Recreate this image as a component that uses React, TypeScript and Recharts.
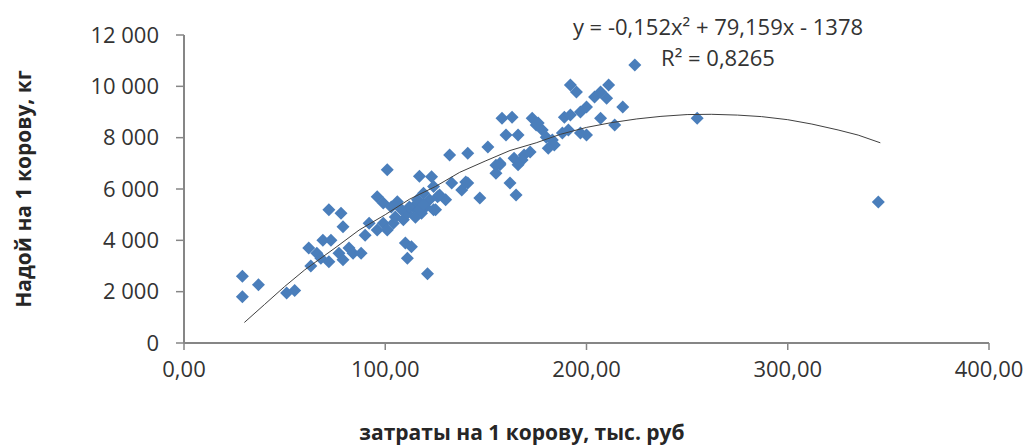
import { Scatter, ScatterChart, XAxis, YAxis } from "recharts";

/* ── data ──────────────────────────────────────────────────── */

// затраты на 1 корову, тыс. руб
const costs = [
  29, 29, 37, 51, 55, 63, 62, 66, 68, 72, 72, 69, 73, 78, 79, 77, 79, 82, 84, 88,
  90, 92, 96, 96, 99, 101, 99, 101, 104, 103, 105, 110, 113, 111, 121, 109, 111,
  114, 116, 117, 119, 118, 120, 122, 123, 124, 125, 126, 130, 132, 133, 138, 141,
  141, 147, 151, 155, 157, 158, 163, 160, 166, 162, 165, 164, 169, 172, 175, 178,
  180, 173, 176, 183, 184, 188, 189, 191, 192, 195, 192, 197, 197, 200, 200, 204,
  207, 211, 210, 207, 214, 218, 224, 255, 345, 155, 140, 127, 112, 117, 124, 106,
  115, 119, 108, 181, 168, 166, 157,
];

// Надой на 1 корову, кг
const yields = [
  2600, 1800, 2270, 1950, 2050, 3000, 3700, 3500, 3300, 3170, 5190, 4000, 4000,
  5060, 4530, 3500, 3240, 3700, 3500, 3500, 4200, 4670, 4400, 5700, 5450, 6750,
  4670, 4400, 4670, 5300, 4910, 3900, 3750, 3300, 2700, 4800, 5060, 5300, 5580,
  6500, 5830, 5060, 5300, 5580, 6480, 6100, 5190, 5700, 5580, 7320, 6230, 5960,
  7390, 6230, 5650, 7640, 6610, 7000, 8760, 8800, 8100, 8100, 6230, 5770, 7200,
  7320, 7440, 8490, 8300, 8020, 8760, 8570, 7910, 7710, 8180, 8800, 8300, 10050,
  9780, 8880, 9000, 8180, 8100, 9190, 9580, 9780, 10050, 9540, 8760, 8490, 9190,
  10830, 8760, 5490, 6930, 6270, 5770, 5300, 5190, 5190, 5500, 4900, 5400, 5200,
  7590, 7130, 6940, 6940,
];

// polynomial trend line
const trendX = [
  30, 40, 50, 60, 75, 87, 100, 112, 125, 137, 150, 162, 175, 187, 200, 212, 225,
  237, 250, 262, 275, 287, 300, 312, 325, 335, 346,
];
const trendY = [
  800, 1500, 2200, 2850, 3700, 4400, 5000, 5600, 6100, 6650, 7100, 7500, 7800,
  8130, 8400, 8580, 8730, 8830, 8900, 8910, 8880, 8820, 8700, 8530, 8300, 8100,
  7800,
];

const xTicks = [0, 100, 200, 300, 400];
const yTicks = [0, 2000, 4000, 6000, 8000, 10000, 12000];

const points = costs.map((x, i) => ({ x, y: yields[i] }));
const trend = trendX.map((x, i) => ({ x, y: trendY[i] }));

/* ── helpers ───────────────────────────────────────────────── */

const FONT = "'Open Sans', sans-serif";
const MARKER = "#4A7EBB";
const AXIS = "#868686";
const TEXT = "#333333";

const fmtX = (v: number) => v.toFixed(2).replace(".", ",");
const fmtY = (v: number) =>
  v >= 1000 ? `${Math.floor(v / 1000)} ${String(v % 1000).padStart(3, "0")}` : String(v);

// eslint-disable-next-line @typescript-eslint/no-explicit-any
function Diamond(props: any) {
  const { cx, cy } = props;
  if (cx == null || cy == null) return null;
  const r = 6.5;
  return (
    <polygon
      points={`${cx},${cy - r} ${cx + r},${cy} ${cx},${cy + r} ${cx - r},${cy}`}
      fill={MARKER}
    />
  );
}

function NoDot() {
  return null;
}

const tickStyle = { fill: TEXT, fontSize: 22, fontFamily: FONT };

export default function App() {
  return (
    <div style={{ position: "absolute", left: 0, top: 0, width: 1029, height: 446, background: "#fff" }}>
      <ScatterChart width={1029} height={446} margin={{ top: 35, right: 40, left: 0, bottom: 0 }}>
        <XAxis
          type="number"
          dataKey="x"
          domain={[0, 400]}
          ticks={xTicks}
          tickFormatter={fmtX}
          height={103}
          tick={tickStyle}
          tickSize={7}
          tickMargin={11}
          axisLine={{ stroke: AXIS, strokeWidth: 2 }}
          tickLine={{ stroke: AXIS, strokeWidth: 1.5 }}
        />
        <YAxis
          type="number"
          dataKey="y"
          domain={[0, 12000]}
          ticks={yTicks}
          tickFormatter={fmtY}
          width={184}
          tick={tickStyle}
          tickSize={8}
          tickMargin={17}
          axisLine={{ stroke: AXIS, strokeWidth: 2 }}
          tickLine={{ stroke: AXIS, strokeWidth: 1.5 }}
        />
        <Scatter data={points} shape={Diamond} isAnimationActive={false} />
        <Scatter
          data={trend}
          line={{ stroke: "#404040", strokeWidth: 1 }}
          lineType="joint"
          shape={NoDot}
          isAnimationActive={false}
        />
      </ScatterChart>

      {/* trend equation */}
      <div
        style={{
          position: "absolute",
          left: 718,
          top: 11,
          transform: "translateX(-50%)",
          fontFamily: FONT,
          fontSize: 22,
          color: TEXT,
          whiteSpace: "nowrap",
          textAlign: "center",
          lineHeight: "31px",
        }}
      >
        <div>y = -0,152x² + 79,159x - 1378</div>
        <div>R² = 0,8265</div>
      </div>

      {/* y axis title */}
      <div
        style={{
          position: "absolute",
          left: 23,
          top: 189,
          transform: "translate(-50%, -50%) rotate(-90deg)",
          fontFamily: FONT,
          fontSize: 21,
          fontWeight: 700,
          color: "#262626",
          whiteSpace: "nowrap",
        }}
      >
        Надой на 1 корову, кг
      </div>

      {/* x axis title */}
      <div
        style={{
          position: "absolute",
          left: 522,
          top: 432,
          transform: "translate(-50%, -50%)",
          fontFamily: FONT,
          fontSize: 21,
          fontWeight: 700,
          color: "#262626",
          whiteSpace: "nowrap",
        }}
      >
        затраты на 1 корову, тыс. руб
      </div>
    </div>
  );
}
